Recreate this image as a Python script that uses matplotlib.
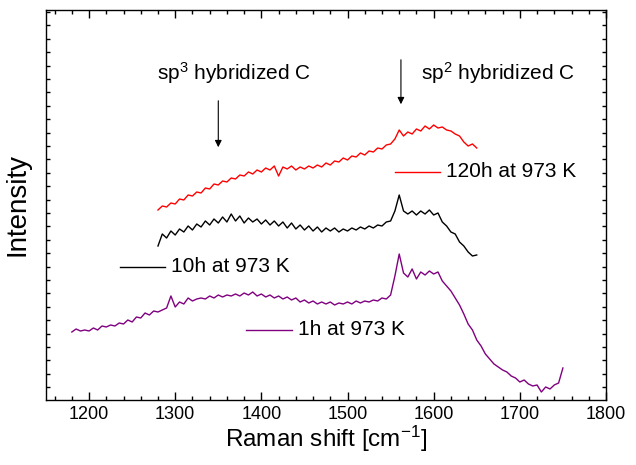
import numpy as np
import matplotlib
matplotlib.use("Agg")
import matplotlib.pyplot as plt
from matplotlib.ticker import MultipleLocator, NullFormatter, NullLocator

plt.rcParams['font.family'] = ['Liberation Sans', 'DejaVu Sans']
plt.rcParams['mathtext.fontset'] = 'custom'
plt.rcParams['mathtext.rm'] = 'Liberation Sans'
plt.rcParams['mathtext.it'] = 'Liberation Sans'

# ---- data (Raman shift in cm^-1, intensity in arbitrary units, offset) ----
shift_1h = np.arange(1180, 1751, 5)
int_1h = [82, 85, 83, 84, 83, 86, 84, 88, 87, 89, 88, 91, 90, 94, 92, 97, 96, 101, 99, 103,
          102, 104, 106, 118, 107, 112, 110, 116, 113, 115, 116, 115, 118, 116, 119, 117, 119, 118, 120, 118,
          121, 119, 122, 118, 120, 117, 119, 116, 118, 115, 117, 114, 116, 112, 114, 111, 113, 110, 112, 110,
          112, 109, 111, 110, 112, 110, 113, 111, 113, 112, 114, 113, 116, 115, 119, 138, 160, 141, 137, 145,
          135, 142, 139, 143, 140, 142, 133, 128, 123, 116, 109, 100, 90, 84, 74, 68, 60, 55, 50, 47,
          44, 42, 38, 36, 32, 34, 30, 28, 29, 22, 27, 25, 29, 31, 46]

shift_10h = np.arange(1280, 1651, 5)
int_10h = [168, 180, 176, 183, 179, 185, 182, 188, 184, 190, 187, 193, 189, 195, 191, 197, 192, 200, 193, 198,
           191, 196, 192, 195, 190, 194, 189, 193, 188, 192, 186, 191, 185, 189, 184, 188, 183, 187, 182, 186,
           183, 186, 182, 185, 183, 186, 184, 187, 185, 188, 186, 189, 188, 192, 193, 203, 219, 203, 200, 203,
           199, 203, 200, 204, 199, 201, 192, 188, 182, 180, 172, 168, 162, 158, 159]

shift_120h = np.arange(1280, 1651, 5)
int_120h = [204, 208, 207, 211, 210, 215, 214, 219, 218, 222, 221, 226, 225, 230, 229, 233, 232, 236, 235, 239,
            238, 242, 240, 244, 242, 246, 244, 248, 238, 247, 245, 248, 244, 247, 245, 248, 246, 249, 247, 251,
            249, 253, 252, 256, 254, 258, 257, 261, 259, 263, 262, 266, 265, 269, 270, 275, 284, 278, 282, 280,
            285, 283, 288, 285, 289, 286, 287, 284, 283, 280, 278, 272, 268, 270, 266]

labels = ["120h at 973 K", "10h at 973 K", "1h at 973 K"]
colors = ["#ff0000", "#000000", "#800080"]

fig = plt.figure(figsize=(6.36, 4.65), dpi=100)
ax = fig.add_axes([0.0723, 0.1398, 0.8805, 0.8387])

ax.plot(shift_120h, int_120h, color=colors[0], lw=1.0)
ax.plot(shift_10h, int_10h, color=colors[1], lw=1.0)
ax.plot(shift_1h, int_1h, color=colors[2], lw=1.0)

# in-plot labels with short line samples
leg = [(1555, 1607, 242, labels[0], colors[0]),
       (1236, 1288, 147, labels[1], colors[1]),
       (1382, 1435, 84, labels[2], colors[2])]
for x0, x1, yy, lab, c in leg:
    ax.plot([x0, x1], [yy, yy], color=c, lw=1.0)
    ax.text(x1 + 7, yy, lab, fontsize=15, va='center', ha='left')

# annotations
ax.annotate("", xy=(1350, 264), xytext=(1350, 316),
            arrowprops=dict(arrowstyle='-|>', color='black', lw=0.8, mutation_scale=10))
ax.annotate("", xy=(1562, 307), xytext=(1562, 357),
            arrowprops=dict(arrowstyle='-|>', color='black', lw=0.8, mutation_scale=10))
ax.text(1368, 341, "sp$^3$ hybridized C", fontsize=15, ha='center', va='center')
ax.text(1675, 341, "sp$^2$ hybridized C", fontsize=15, ha='center', va='center')

ax.set_xlim(1150, 1800)
ax.set_ylim(14, 404)
ax.xaxis.set_major_locator(MultipleLocator(100))
ax.xaxis.set_minor_locator(MultipleLocator(20))
ax.yaxis.set_major_locator(NullLocator())
ax.yaxis.set_minor_locator(MultipleLocator(13.4))
ax.yaxis.set_major_formatter(NullFormatter())
ax.tick_params(axis='both', which='both', direction='in', top=True, right=True)
ax.tick_params(axis='x', which='major', length=6, width=1, labelsize=13, pad=4)
ax.tick_params(axis='x', which='minor', length=3, width=1)
ax.tick_params(axis='y', which='minor', length=3, width=1)
for s in ax.spines.values():
    s.set_linewidth(1.0)

ax.set_xlabel("Raman shift [cm$^{-1}$]", fontsize=17.5, labelpad=1)
ax.set_ylabel("Intensity", fontsize=20, labelpad=8)

fig.savefig("out.png", dpi=100)
